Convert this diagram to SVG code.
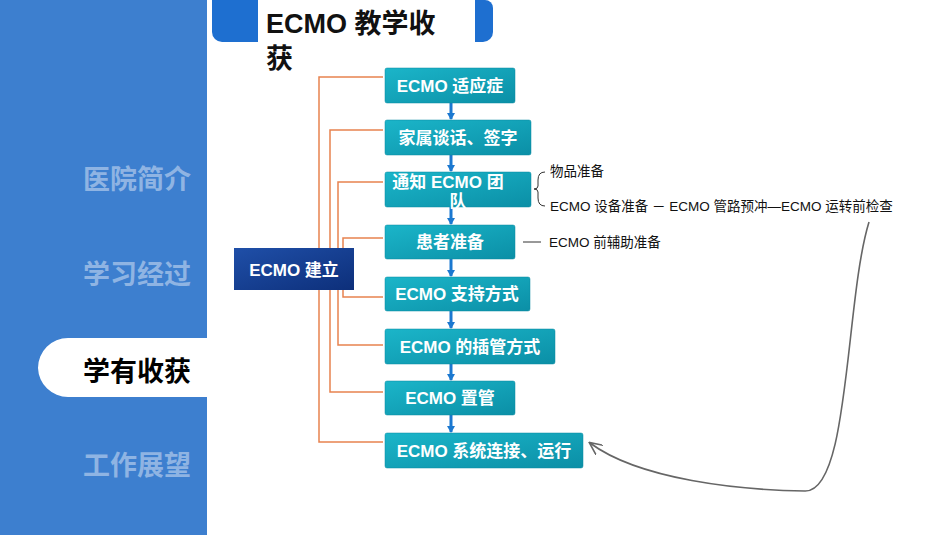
<svg xmlns="http://www.w3.org/2000/svg" width="950" height="535" viewBox="0 0 950 535">
<defs>
<linearGradient id="tg" x1="0" y1="0" x2="1" y2="1"><stop offset="0" stop-color="#1bb5c9"/><stop offset="1" stop-color="#0b8fa6"/></linearGradient>
<linearGradient id="ng" x1="0" y1="0" x2="1" y2="1"><stop offset="0" stop-color="#1f4fa8"/><stop offset="1" stop-color="#0d2f7a"/></linearGradient>
<marker id="ab" markerWidth="8" markerHeight="8" refX="6" refY="4" orient="auto" markerUnits="userSpaceOnUse"><path d="M0,0 L7,4 L0,8 z" fill="#1b78d0"/></marker>
<marker id="ag" markerWidth="14" markerHeight="12" refX="12" refY="6" orient="auto" markerUnits="userSpaceOnUse"><path d="M0,0 L13,6 L0,12" fill="none" stroke="#666" stroke-width="1.6"/></marker>
</defs>
<style>
.box{fill:url(#tg);stroke:#0a8aa0;stroke-width:.5}
.bt{font-family:"Liberation Sans","Noto Sans CJK SC",sans-serif;font-size:17px;font-weight:bold;fill:#fff;text-anchor:middle}
.nav{font-family:"Liberation Sans","Noto Sans CJK SC",sans-serif;font-size:27px;font-weight:bold;fill:#8fb4e3;text-anchor:middle}
.sm{font-family:"Liberation Sans","Noto Sans CJK SC",sans-serif;font-size:13.5px;fill:#111}
.or{fill:none;stroke:#e8824f;stroke-width:1.5}
.bl{stroke:#1b78d0;stroke-width:3;marker-end:url(#ab)}
</style>
<rect width="950" height="535" fill="#fff"/>
<g id="sidebar">
<rect x="0" y="0" width="207" height="535" fill="#3d7fcf"/>
<path d="M38,368 A30,30 0 0 1 68,338 L207,338 L207,397 L68,397 A30,30 0 0 1 38,368 Z" fill="#fff"/>
<text class="nav" x="137" y="189">医院简介</text>
<text class="nav" x="137" y="284">学习经过</text>
<text class="nav" x="137" y="381" style="fill:#000">学有收获</text>
<text class="nav" x="137" y="475">工作展望</text>
</g>
<g id="header">
<path d="M222,0 L258,0 L258,42 L222,42 A10,10 0 0 1 212,32 L212,0 Z" fill="#1e6fd0"/>
<path d="M475,0 L485,0 A8,8 0 0 1 493,8 L493,32 A10,10 0 0 1 483,42 L475,42 Z" fill="#1e6fd0"/>
<text x="266" y="33" font-family="Liberation Sans,'Noto Sans CJK SC',sans-serif" font-size="27" font-weight="bold" fill="#111">ECMO 教学收</text>
<text x="266" y="68" font-family="Liberation Sans,'Noto Sans CJK SC',sans-serif" font-size="27" font-weight="bold" fill="#111">获</text>
</g>
<g id="connectors">
<path class="or" d="M383,77 H319 V442 H383"/>
<path class="or" d="M383,130 H330 V392 H383"/>
<path class="or" d="M383,182 H338 V345 H383"/>
<path class="or" d="M383,238 H343 V297 H383"/>
<line class="bl" x1="451" y1="103" x2="451" y2="119"/>
<line class="bl" x1="451" y1="155" x2="451" y2="171"/>
<line class="bl" x1="451" y1="207" x2="451" y2="224"/>
<line class="bl" x1="451" y1="259" x2="451" y2="276"/>
<line class="bl" x1="451" y1="311" x2="451" y2="328"/>
<line class="bl" x1="451" y1="364" x2="451" y2="380"/>
<line class="bl" x1="451" y1="415" x2="451" y2="432"/>
<path d="M545,172 Q538,172 538,180 V186 Q538,189 534,189 Q538,189 538,192 V198 Q538,206 545,206" fill="none" stroke="#333" stroke-width="1"/>
<line x1="523" y1="242" x2="541" y2="242" stroke="#333" stroke-width="1"/>
<path d="M869,222 C845,300 850,492 805,491 C740,490 640,480 590,443" fill="none" stroke="#666" stroke-width="1.6" marker-end="url(#ag)"/>
</g>
<g id="root"><rect x="234" y="248" width="120" height="42" fill="url(#ng)"/><text class="bt" x="294" y="276">ECMO 建立</text></g>
<g id="n1"><rect class="box" x="385" y="68" width="130" height="35" rx="2"/><text class="bt" x="450" y="92">ECMO 适应症</text></g>
<g id="n2"><rect class="box" x="385" y="120" width="146" height="35" rx="2"/><text class="bt" x="458" y="144">家属谈话、签字</text></g>
<g id="n3"><rect class="box" x="385" y="172" width="146" height="35" rx="2"/><text class="bt" x="448" y="188">通知 ECMO 团</text><text class="bt" x="458" y="207">队</text></g>
<g id="n4"><rect class="box" x="385" y="225" width="130" height="34" rx="2"/><text class="bt" x="450" y="248">患者准备</text></g>
<g id="n5"><rect class="box" x="385" y="277" width="145" height="34" rx="2"/><text class="bt" x="457" y="300">ECMO 支持方式</text></g>
<g id="n6"><rect class="box" x="385" y="329" width="170" height="35" rx="2"/><text class="bt" x="470" y="353">ECMO 的插管方式</text></g>
<g id="n7"><rect class="box" x="385" y="381" width="130" height="34" rx="2"/><text class="bt" x="450" y="404">ECMO 置管</text></g>
<g id="n8"><rect class="box" x="385" y="433" width="198" height="35" rx="2"/><text class="bt" x="484" y="457">ECMO 系统连接、运行</text></g>
<g id="notes">
<text class="sm" x="550" y="176">物品准备</text>
<text class="sm" x="550" y="211">ECMO 设备准备 － ECMO 管路预冲—ECMO 运转前检查</text>
<text class="sm" x="549" y="247">ECMO 前辅助准备</text>
</g>
</svg>
